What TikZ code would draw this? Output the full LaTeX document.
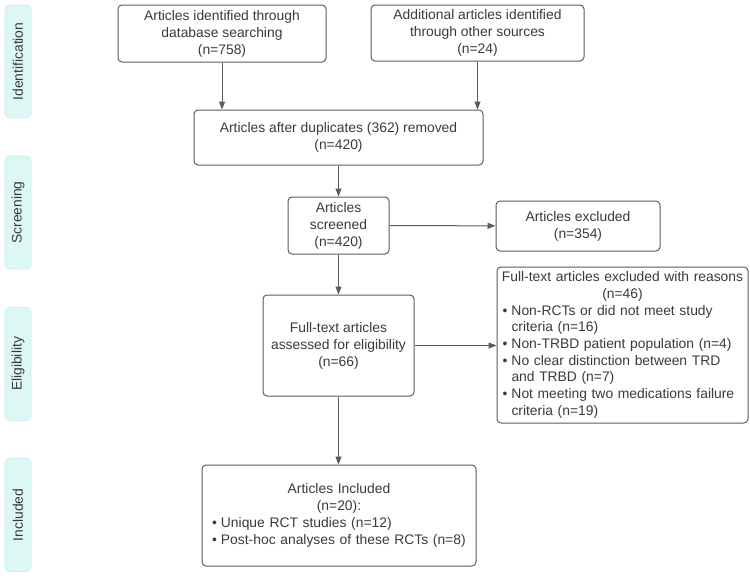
\documentclass[tikz,border=0pt]{standalone}
\usepackage{fontspec}
\setmainfont{Liberation Sans}
\usetikzlibrary{arrows.meta,positioning}
\definecolor{phasecyan}{HTML}{DDF7F5}
\definecolor{phaseedge}{HTML}{CDEEEC}
\definecolor{inkgray}{HTML}{3A3A3A}
\definecolor{linegray}{HTML}{5C5C5C}
\newcommand{\bul}{\makebox[8.25pt][l]{\hspace{1.5pt}\textbullet}}
\newcommand{\bulcont}{\hspace*{8.25pt}}

\begin{document}
\begin{tikzpicture}[x=0.75pt,y=-0.75pt,>={Triangle[length=6pt,width=4.5pt]},
  box/.style={draw=linegray,line width=0.75pt,rounded corners=3pt,align=center,
    inner sep=2pt,text=inkgray,font=\fontsize{10.4pt}{12.8pt}\selectfont},
  phase/.style={draw=phaseedge,fill=phasecyan,rounded corners=3pt,rotate=90,
    minimum width=84.75pt,minimum height=19.5pt,inner sep=0pt,text=inkgray,
    font=\fontsize{10.4pt}{12.8pt}\selectfont},
  flow/.style={->,draw=linegray,line width=0.75pt}]
  \useasboundingbox (0,0) rectangle (750,578);
  % phases
  \node[phase] (idph) at (18,61.5) {Identification};
  \node[phase] (scph) at (18,212.5) {Screening};
  \node[phase] (elph) at (18,364) {Eligibility};
  \node[phase] (inph) at (18,515) {Included};
  % boxes
  \node[box,minimum width=156pt,minimum height=42.75pt] (dbase) at (222,33.5)
    {Articles identified through\\database searching\\(n=758)};
  \node[box,minimum width=159.75pt,minimum height=42pt] (other) at (477.5,33)
    {Additional articles identified\\through other sources\\(n=24)};
  \node[box,minimum width=216.75pt,minimum height=41.25pt] (dupl) at (338.5,137.5)
    {Articles after duplicates (362) removed\\(n=420)};
  \node[box,minimum width=75.75pt,minimum height=42.75pt] (screen) at (338.5,225.5)
    {Articles\\screened\\(n=420)};
  \node[box,minimum width=123pt,minimum height=37.5pt] (excl) at (578,226)
    {Articles excluded\\(n=354)};
  \node[box,minimum width=113.25pt,minimum height=75.75pt] (fulltext) at (338.5,345.5)
    {Full-text articles\\assessed for eligibility\\(n=66)};
  \node[box,minimum width=188.25pt,minimum height=117pt,text width=183pt,align=left,
    font=\fontsize{10.4pt}{12.5pt}\selectfont] (reasons) at (622.5,345)
    {\centering Full-text articles excluded with reasons\\(n=46)\par
     \raggedright
     \bul Non-RCTs or did not meet study\\
     \bulcont criteria (n=16)\\
     \bul Non-TRBD patient population (n=4)\\
     \bul No clear distinction between TRD\\
     \bulcont and TRBD (n=7)\\
     \bul Not meeting two medications failure\\
     \bulcont criteria (n=19)\par};
  \node[box,minimum width=205.5pt,minimum height=75.75pt,text width=193.5pt,align=left] (incl) at (339,515.5)
    {\centering Articles Included\\(n=20):\par
     \raggedright
     \bul Unique RCT studies (n=12)\\
     \bul Post-hoc analyses of these RCTs (n=8)\par};
  % arrows
  \draw[flow] (dbase.south) -- (dbase.south |- dupl.north);
  \draw[flow] (other.south) -- (other.south |- dupl.north);
  \draw[flow] (dupl) -- (screen);
  \draw[flow] (screen) -- (excl);
  \draw[flow] (screen) -- (fulltext);
  \draw[flow] (fulltext.east) -- (fulltext.east -| reasons.west);
  \draw[flow] (fulltext) -- (fulltext |- incl.north);
\end{tikzpicture}
\end{document}
